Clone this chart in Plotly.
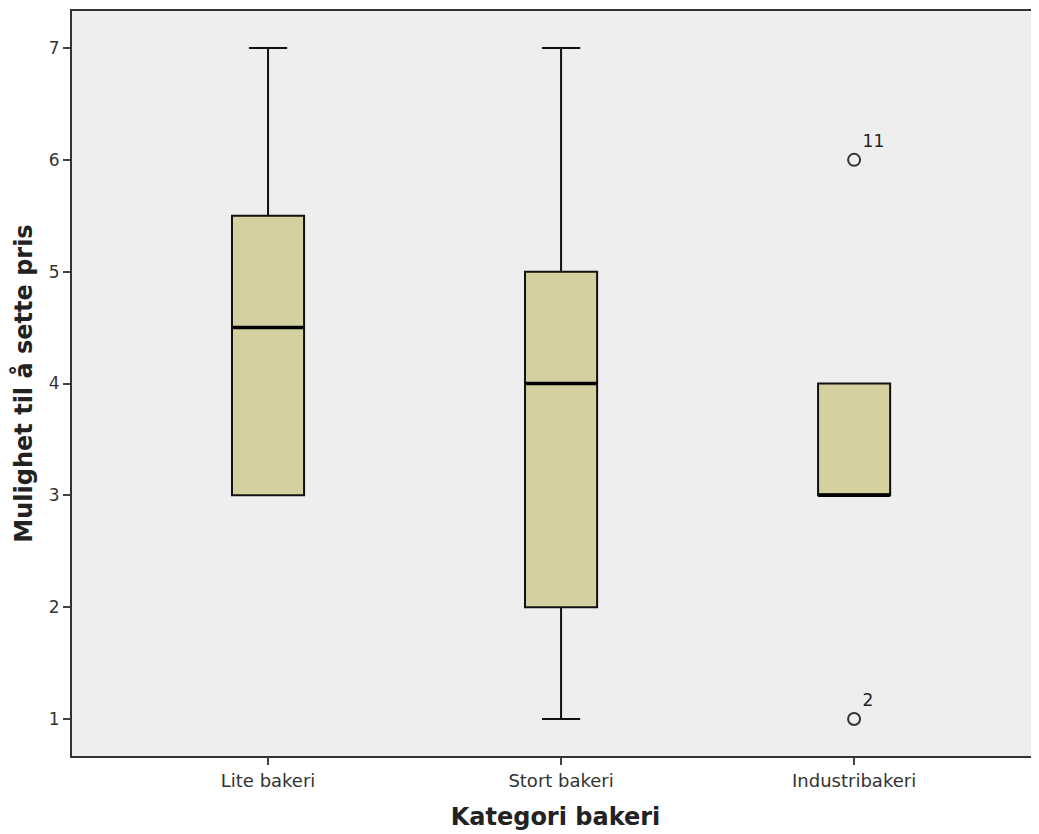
import plotly.graph_objects as go

categories = ["Lite bakeri", "Stort bakeri", "Industribakeri"]
q1 = [3, 2, 3]
median = [4.5, 4, 3]
q3 = [5.5, 5, 4]
lowerfence = [3, 1, 3]
upperfence = [7, 7, 4]
outlier_cat = [2, 2]
outlier_val = [6, 1]
outlier_id = ["11", "2"]
yticks = [1, 2, 3, 4, 5, 6, 7]

xpos = list(range(len(categories)))
box_w = 0.246
fill = "#D4D0A0"

fig = go.Figure()
for i, c in enumerate(categories):
    fig.add_trace(go.Box(
        x=[xpos[i]], q1=[q1[i]], median=[median[i]], q3=[q3[i]],
        lowerfence=[lowerfence[i]], upperfence=[upperfence[i]],
        width=box_w, whiskerwidth=0.53,
        fillcolor=fill, line=dict(color="#111111", width=2),
        boxpoints=False, showlegend=False, hoverinfo="skip"))
    # thick median line
    fig.add_trace(go.Scatter(
        x=[xpos[i] - box_w / 2, xpos[i] + box_w / 2], y=[median[i], median[i]],
        mode="lines", line=dict(color="#000000", width=3.5),
        showlegend=False, hoverinfo="skip"))

fig.add_trace(go.Scatter(
    x=outlier_cat, y=outlier_val, mode="markers+text",
    text=outlier_id, textposition="top right",
    textfont=dict(family="DejaVu Sans", size=17, color="#222222"),
    marker=dict(symbol="circle-open", size=12, color="#333333", line=dict(width=2)),
    showlegend=False, hoverinfo="skip"))

fig.update_layout(
    width=1031, height=826,
    margin=dict(l=64, r=0, t=3, b=78),
    paper_bgcolor="white", plot_bgcolor="#EEEEEE",
    font=dict(family="DejaVu Sans", size=17, color="#333333"),
)
fig.update_xaxes(
    range=[-0.669, 2.631], tickvals=xpos, ticktext=categories,
    showgrid=False, zeroline=False,
    showline=True, linecolor="#333333", linewidth=2, mirror=True,
    ticks="outside", ticklen=7, tickwidth=2, tickcolor="#444444",
    tickfont=dict(size=18, color="#333333"),
    title=dict(text="<b>Kategori bakeri</b>", font=dict(size=24, color="#222222"), standoff=19),
)
fig.update_yaxes(
    range=[0.669, 7.331], tickvals=yticks,
    showgrid=False, zeroline=False,
    showline=True, linecolor="#333333", linewidth=2, mirror=False,
    ticks="outside", ticklen=7, tickwidth=2, tickcolor="#444444",
    tickfont=dict(size=17, color="#333333"),
    title=dict(text="<b>Mulighet til å sette pris</b>", font=dict(size=24, color="#222222"), standoff=9),
)

fig.write_html("out.html")
